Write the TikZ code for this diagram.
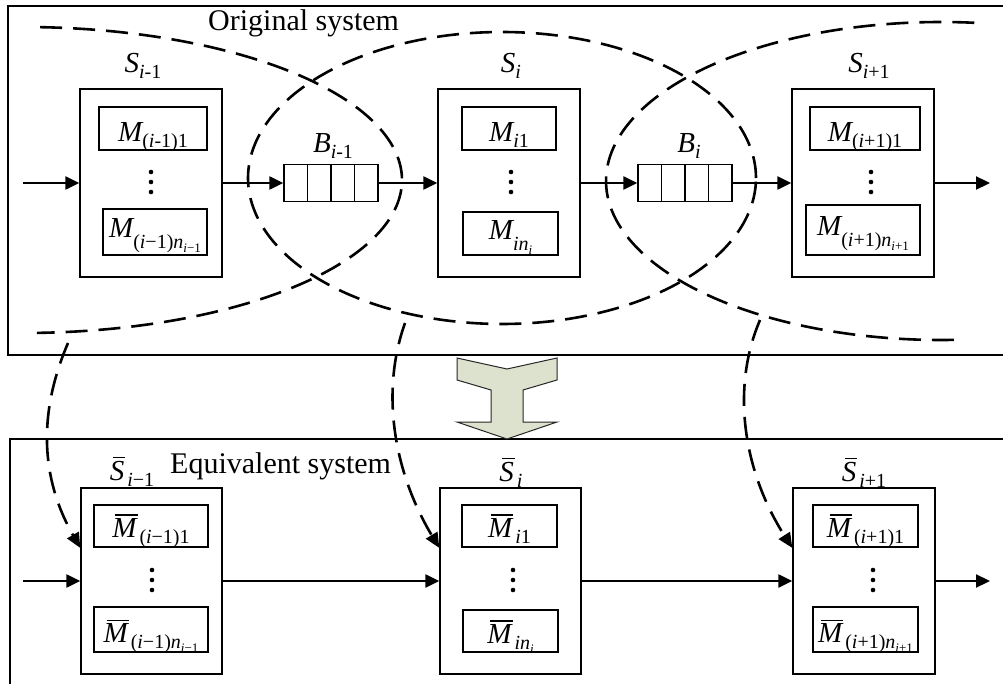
\documentclass[tikz,border=0pt]{standalone}
\usepackage{fontspec}
\setmainfont{Liberation Serif}
\usetikzlibrary{arrows.meta,calc}

\definecolor{arrowfill}{RGB}{220,226,205}

% type sizes
\newcommand{\mainsz}{\fontsize{29}{29}\selectfont}
\newcommand{\subsz}{\fontsize{20}{20}\selectfont}
\newcommand{\tinysz}{\fontsize{13}{13}\selectfont}
\newcommand{\titlesz}{\fontsize{30}{30}\selectfont}
% symbol with a lowered subscript
\newcommand{\Sym}[2]{{\mainsz\itshape #1}\raisebox{-6pt}{\subsz #2}}
% bar over a letter
\newcommand{\ovl}[1]{\setbox0=\hbox{#1}\rlap{\hspace{3pt}\raisebox{\dimexpr\ht0+2.5pt\relax}{\rule{\dimexpr\wd0-2pt\relax}{1.4pt}}}\box0}
\newcommand{\BSym}[2]{{\mainsz\itshape\ovl{#1}}\hspace{3pt}\raisebox{-6pt}{\subsz #2}}

\begin{document}
\begin{tikzpicture}[x=1pt,y=-1pt,
  frame/.style={draw, line width=1.3pt},
  sysbox/.style={draw, line width=1.3pt, minimum width=142pt, inner sep=0pt},
  mbox/.style={draw, line width=1.3pt, inner sep=0pt},
  bufbox/.style={draw, line width=1.3pt, minimum width=94pt, minimum height=37pt, inner sep=0pt},
  flow/.style={line width=2.2pt, -{Triangle[length=14pt,width=13pt]}},
  zone/.style={line width=2.6pt, dash pattern=on 22pt off 11pt},
  link/.style={line width=2.6pt, dash pattern=on 22pt off 11pt, -{Triangle[length=15pt,width=13pt]}},
  lab/.style={inner sep=0pt, anchor=base},
]
\useasboundingbox (0,0) rectangle (1003,684);
\clip (0,0) rectangle (1003,684);

% ---------- frames ----------
\draw[frame] (8,6) rectangle (1012,355);
\draw[frame] (10,439) rectangle (1012,700);
\node[lab, anchor=base west] (ttop) at (208,31) {\titlesz Original system};
\node[lab, anchor=base west] (tbot) at (170,473) {\titlesz Equivalent system};

% ---------- original system ----------
\node[sysbox, minimum height=188pt] (s1) at (151,183) {};
\node[sysbox, minimum height=188pt] (s2) at (509,183) {};
\node[sysbox, minimum height=188pt] (s3) at (863,183) {};

\node[lab] (ls1) at (143,73) {\Sym{S}{\textit{i}-1}};
\node[lab] (ls2) at (511,73) {\Sym{S}{\textit{i}}};
\node[lab] (ls3) at (869,73) {\Sym{S}{\textit{i}+1}};

\node[mbox, minimum width=108pt, minimum height=43pt] (m11) at (153,128.5) {};
\node[mbox, minimum width=104pt, minimum height=46pt] (m12) at (155,232) {};
\node[mbox, minimum width=94pt, minimum height=43pt] (m21) at (509,128.5) {};
\node[mbox, minimum width=95pt, minimum height=43pt] (m22) at (510.5,233.5) {};
\node[mbox, minimum width=110pt, minimum height=43pt] (m31) at (865,128.5) {};
\node[mbox, minimum width=114pt, minimum height=50pt] (m32) at (863,230) {};

\node[lab] (tm11) at ([yshift=-13pt]m11.center) {\Sym{M}{(\textit{i}-1)1}};
\node[lab] (tm12) at ([yshift=-6pt]m12.center) {{\mainsz\itshape M}\raisebox{-11pt}{\subsz(\textit{i}−1)\textit{n}\raisebox{-4pt}{\tinysz\textit{i}−1}}};
\node[lab] (tm21) at ([yshift=-13pt]m21.center) {\Sym{M}{\textit{i}1}};
\node[lab] (tm22) at ([yshift=-6pt]m22.center) {{\mainsz\itshape M}\raisebox{-11pt}{\subsz\textit{in}\raisebox{-4pt}{\tinysz\textit{i}}}};
\node[lab] (tm31) at ([yshift=-13pt]m31.center) {\Sym{M}{(\textit{i}+1)1}};
\node[lab] (tm32) at ([yshift=-6pt]m32.center) {{\mainsz\itshape M}\raisebox{-11pt}{\subsz(\textit{i}+1)\textit{n}\raisebox{-4pt}{\tinysz\textit{i}+1}}};

\foreach \cx in {151,511,871}{
  \foreach \cy in {172,182,192}{\fill (\cx,\cy) circle[radius=2.3pt];}
}

% buffers
\node[bufbox] (b1) at (331,183) {};
\node[bufbox] (b2) at (685,183) {};
\foreach \b in {b1,b2}{
  \foreach \k in {1,2,3}{
    \draw[line width=1.3pt] ($(\b.north west)!\k/4!(\b.north east)$) -- ($(\b.south west)!\k/4!(\b.south east)$);
  }
}
\node[lab] (lb1) at (333,153) {\Sym{B}{\textit{i}-1}};
\node[lab] (lb2) at (689,153) {\Sym{B}{\textit{i}}};

% material flow
\coordinate (in1) at (23,183);
\coordinate (out1) at (990,183);
\draw[flow] (in1) -- (s1.west);
\draw[flow] (s1.east) -- (b1.west);
\draw[flow] (b1.east) -- (s2.west);
\draw[flow] (s2.east) -- (b2.west);
\draw[flow] (b2.east) -- (s3.west);
\draw[flow] (s3.east) -- (out1);

% decomposition zones
\draw[zone] plot[domain=87.4:-87.9, samples=120, smooth] ({23+379*cos(\x)},{180-153*sin(\x)});
\draw[zone] plot[domain=0:360, samples=160, smooth] ({502+254*cos(\x)},{178-146*sin(\x)});
\draw[zone] plot[domain=84.3:272.4, samples=120, smooth] ({941+335*cos(\x)},{181-159*sin(\x)});

% ---------- transformation arrow ----------
\draw[fill=arrowfill, draw=black!85, line width=1pt]
  (457,358) -- (507,369) -- (557,358) -- (557,380) -- (523,390) -- (523,422)
  -- (557,422) -- (507,439) -- (457,422) -- (491,422) -- (491,390) -- (457,380) -- cycle;

% ---------- equivalent system ----------
\node[sysbox, minimum width=141pt, minimum height=186pt] (e1) at (151.5,581) {};
\node[sysbox, minimum width=141pt, minimum height=186pt] (e2) at (510.5,581) {};
\node[sysbox, minimum width=142pt, minimum height=186pt] (e3) at (864,581) {};

\node[lab] (le1) at (132,480) {\BSym{S}{\textit{i}−1}};
\node[lab] (le2) at (511,481) {\BSym{S}{\textit{i}}};
\node[lab] (le3) at (864,481) {\BSym{S}{\textit{i}+1}};

\node[mbox, minimum width=114pt, minimum height=42pt] (n11) at (151,526) {};
\node[mbox, minimum width=114pt, minimum height=45pt] (n12) at (151,629.5) {};
\node[mbox, minimum width=95pt, minimum height=42pt] (n21) at (509.5,526) {};
\node[mbox, minimum width=95pt, minimum height=42pt] (n22) at (510.5,631) {};
\node[mbox, minimum width=105pt, minimum height=42pt] (n31) at (865.5,526) {};
\node[mbox, minimum width=105pt, minimum height=45pt] (n32) at (865.5,629.5) {};

\node[lab] (tn11) at ([yshift=-11pt]n11.center) {\BSym{M}{(\textit{i}−1)1}};
\node[lab] (tn12) at ([yshift=-13pt]n12.center) {{\mainsz\itshape\ovl{M}}\hspace{3pt}\raisebox{-6pt}{\subsz(\textit{i}−1)\textit{n}\raisebox{-4pt}{\tinysz\textit{i}−1}}};
\node[lab] (tn21) at ([yshift=-11pt]n21.center) {\BSym{M}{\textit{i}1}};
\node[lab] (tn22) at ([yshift=-12pt]n22.center) {{\mainsz\itshape\ovl{M}}\hspace{3pt}\raisebox{-6pt}{\subsz\textit{in}\raisebox{-4pt}{\tinysz\textit{i}}}};
\node[lab] (tn31) at ([yshift=-11pt]n31.center) {\BSym{M}{(\textit{i}+1)1}};
\node[lab] (tn32) at ([yshift=-13pt]n32.center) {{\mainsz\itshape\ovl{M}}\hspace{3pt}\raisebox{-6pt}{\subsz(\textit{i}+1)\textit{n}\raisebox{-4pt}{\tinysz\textit{i}+1}}};

\foreach \cx in {152,513,873}{
  \foreach \cy in {570,580,590}{\fill (\cx,\cy) circle[radius=2.3pt];}
}

\coordinate (in2) at (23,581);
\coordinate (out2) at (990,581);
\draw[flow] (in2) -- (e1.west);
\draw[flow] (e1.east) -- (e2.west);
\draw[flow] (e2.east) -- (e3.west);
\draw[flow] (e3.east) -- (out2);

% mapping of each zone onto its equivalent subsystem
\coordinate (z1) at (68,343);
\coordinate (z2) at (405,323);
\coordinate (z3) at (760,320);
\draw[link] (z1) .. controls +(-30,70) and +(-40,-70) .. ($(e1.west)+(0,-33)$);
\draw[link] (z2) .. controls +(-25,70) and +(-45,-75) .. ($(e2.west)+(0,-33)$);
\draw[link] (z3) .. controls +(-30,70) and +(-48,-75) .. ($(e3.west)+(0,-33)$);
\end{tikzpicture}
\end{document}
